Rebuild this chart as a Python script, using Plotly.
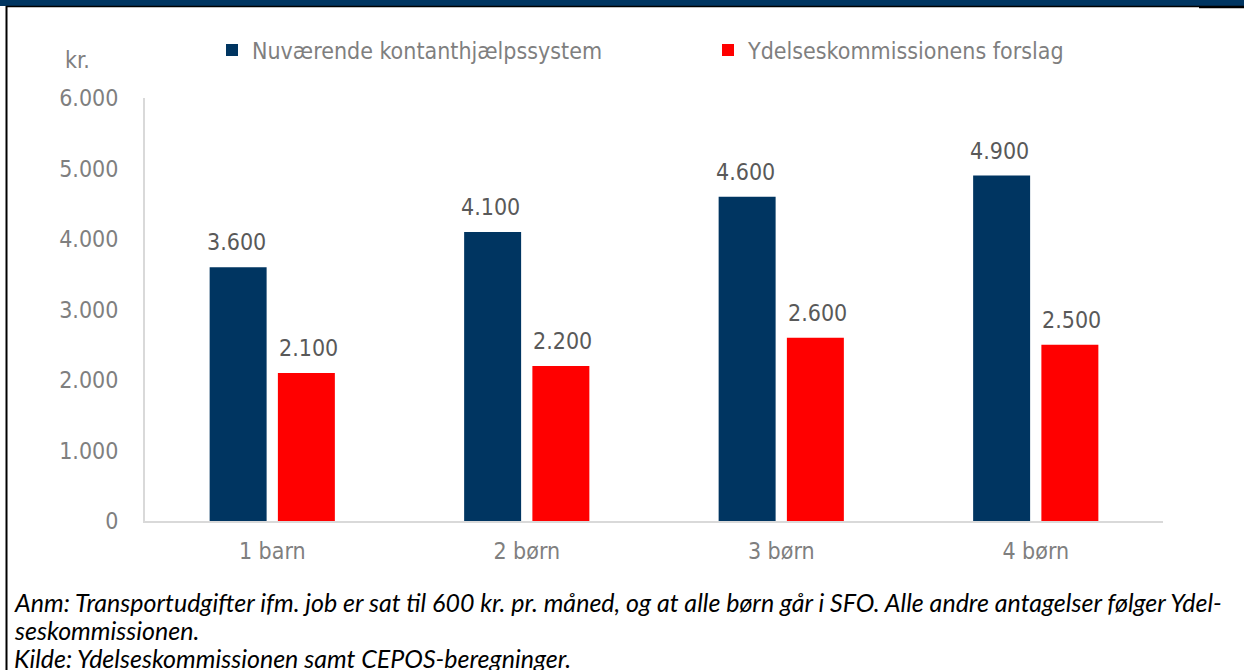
import plotly.graph_objects as go

categories = ["1 barn", "2 børn", "3 børn", "4 børn"]
series_names = ["Nuværende kontanthjælpssystem", "Ydelseskommissionens forslag"]
current_values = [3600, 4100, 4600, 4900]
proposal_values = [2100, 2200, 2600, 2500]
y_ticks = [0, 1000, 2000, 3000, 4000, 5000, 6000]
note_lines = [
    "Anm: Transportudgifter ifm. job er sat til 600 kr. pr. måned, og at alle børn går i SFO. Alle andre antagelser følger Ydel-",
    "seskommissionen.",
    "Kilde: Ydelseskommissionen samt CEPOS-beregninger.",
]

W, H = 1244, 670
L, R, T, B = 145, 81, 98, 149
PW, PH = W - L - R, H - T - B

def px_x(p):
    return (p - L) / PW

def px_y(p):
    return (H - B - p) / PH

BLUE = "#003561"
RED = "#FF0000"
AX_GRAY = "#7F7F7F"
LBL_GRAY = "#595959"
FONT = "DejaVu Sans Condensed, DejaVu Sans, sans-serif"

fig = go.Figure()
fig.add_trace(go.Bar(x=categories, y=current_values, name=series_names[0], legend="legend",
                     marker=dict(color=BLUE, line=dict(width=0))))
fig.add_trace(go.Bar(x=categories, y=proposal_values, name=series_names[1], legend="legend2",
                     marker=dict(color=RED, line=dict(width=0))))

annotations = []
for vals, shift in ((current_values, -36), (proposal_values, 36)):
    for c, v in zip(categories, vals):
        annotations.append(dict(x=c, y=v, xref="x", yref="y", xshift=shift, yshift=10,
                                text=f"{v:,}".replace(",", "."), showarrow=False,
                                yanchor="bottom", font=dict(family=FONT, size=23, color=LBL_GRAY)))

annotations.append(dict(x=px_x(77), y=px_y(60), xref="paper", yref="paper", text="kr.",
                        showarrow=False, xanchor="center", yanchor="middle",
                        font=dict(family=FONT, size=23, color=AX_GRAY)))

for i, line in enumerate(note_lines):
    annotations.append(dict(x=px_x(12), y=px_y(602 + 28 * i), xref="paper", yref="paper",
                            text=line, showarrow=False, xanchor="left", yanchor="middle",
                            font=dict(family="Lato, sans-serif", size=25, color="#000000", style="italic")))

shapes = [
    dict(type="rect", xref="paper", yref="paper", x0=px_x(0), x1=px_x(W), y0=px_y(0), y1=px_y(6),
         fillcolor=BLUE, line=dict(width=0), layer="above"),
    dict(type="line", xref="paper", yref="paper", x0=px_x(6), x1=px_x(1199), y0=px_y(6.5), y1=px_y(6.5),
         line=dict(color="#000000", width=1.5)),
    dict(type="line", xref="paper", yref="paper", x0=px_x(1199), x1=px_x(W), y0=px_y(7), y1=px_y(7),
         line=dict(color="#000000", width=2.5)),
    dict(type="line", xref="paper", yref="paper", x0=px_x(6.5), x1=px_x(6.5), y0=px_y(6), y1=px_y(H),
         line=dict(color="#000000", width=2)),
]

legend_style = dict(orientation="h", yanchor="middle", xanchor="left", bgcolor="rgba(0,0,0,0)",
                    font=dict(family=FONT, size=23, color=AX_GRAY))

fig.update_layout(
    width=W, height=H,
    margin=dict(l=L, r=R, t=T, b=B),
    paper_bgcolor="white", plot_bgcolor="white",
    separators=",.",
    barmode="group", bargap=0.4637, bargroupgap=0.165,
    showlegend=True,
    legend=dict(x=px_x(212), y=px_y(50), **legend_style),
    legend2=dict(x=px_x(708), y=px_y(50), **legend_style),
    xaxis=dict(showline=True, linecolor="#D9D9D9", linewidth=2, showgrid=False, ticks="",
               tickfont=dict(family=FONT, size=23, color=AX_GRAY), ticklabelstandoff=8),
    yaxis=dict(range=[0, 6000], tickvals=y_ticks, tickformat=",", showline=True, linecolor="#D9D9D9",
               linewidth=2, showgrid=False, zeroline=False, ticks="",
               tickfont=dict(family=FONT, size=23, color=AX_GRAY), ticklabelstandoff=20),
    annotations=annotations,
    shapes=shapes,
)

fig.write_html("out.html", config={"displayModeBar": False},
               post_script="document.body.style.margin='0';document.body.style.overflow='hidden';")
